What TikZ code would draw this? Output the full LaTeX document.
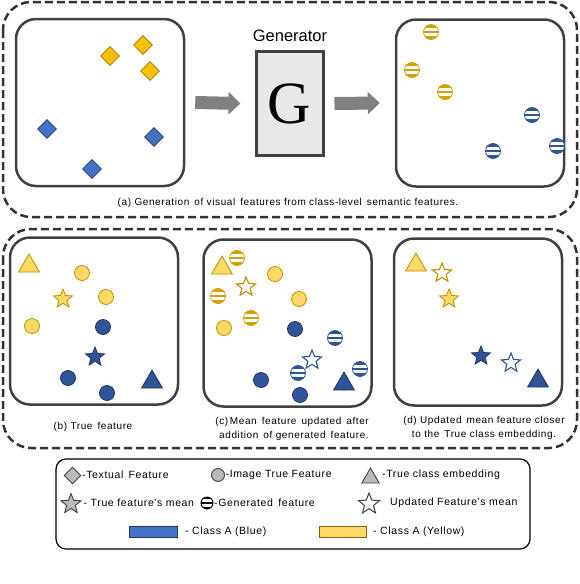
\documentclass[tikz,border=0pt]{standalone}
\usepackage{fontspec}
\setmainfont{Liberation Sans}
\newfontfamily\serifG{Liberation Serif}
\newfontfamily\capfont[LetterSpace=6]{Liberation Sans}
\newfontfamily\legfont[LetterSpace=6]{Liberation Sans}
\usetikzlibrary{shapes.geometric,arrows.meta}
\definecolor{ygold}{HTML}{FFC000}
\definecolor{ylight}{HTML}{FFD966}
\definecolor{yedge}{HTML}{BF9000}
\definecolor{ystripe}{HTML}{D4A10A}
\definecolor{bmid}{HTML}{4472C4}
\definecolor{bdark}{HTML}{2F5597}
\definecolor{bedge}{HTML}{1F3864}
\definecolor{framec}{HTML}{404040}
\definecolor{arrowc}{HTML}{808080}
\definecolor{genfill}{HTML}{E8E8E8}
\begin{document}
\begin{tikzpicture}[x=1pt,y=-1pt,
  panel/.style={draw=framec, line width=2.5pt, rounded corners=20pt, inner sep=0, minimum width=168pt, minimum height=167pt},
  group/.style={draw=black!80, line width=2.5pt, dash pattern=on 8pt off 4pt, rounded corners=28pt},
  dia/.style={diamond, minimum size=19pt, inner sep=0, line width=0.8pt},
  dot/.style={circle, minimum size=15pt, inner sep=0, line width=0.8pt},
  tri/.style={regular polygon, regular polygon sides=3, minimum size=24pt, inner sep=0, line width=0.8pt},
  mstar/.style={star, star points=5, star point ratio=2.3, minimum size=20pt, inner sep=0, line width=0.8pt},
  gen/.style={circle, minimum size=15pt, inner sep=0, draw=#1, line width=0.8pt, fill=white, path picture={
    \fill[#1] ([shift={(-9pt,4.3pt)}]path picture bounding box.center) rectangle ([shift={(9pt,9pt)}]path picture bounding box.center);
    \fill[#1] ([shift={(-9pt,-1.4pt)}]path picture bounding box.center) rectangle ([shift={(9pt,1.4pt)}]path picture bounding box.center);
    \fill[#1] ([shift={(-9pt,-9pt)}]path picture bounding box.center) rectangle ([shift={(9pt,-4.3pt)}]path picture bounding box.center);
  }},
  ydia/.style={dia, fill=ygold, draw=yedge!80!black},
  bdia/.style={dia, fill=bmid, draw=bedge},
  ydot/.style={dot, fill=ylight, draw=yedge},
  bdot/.style={dot, fill=bdark, draw=bedge},
  ytri/.style={tri, fill=ylight, draw=yedge},
  btri/.style={tri, fill=bdark, draw=bedge},
  ystar/.style={mstar, fill=ylight, draw=yedge},
  bstar/.style={mstar, fill=bdark, draw=bedge},
  yhstar/.style={mstar, fill=white, draw=yedge, line width=1.1pt},
  bhstar/.style={mstar, fill=white, draw=bdark, line width=1.1pt},
  ygen/.style={gen=ystripe},
  bgen/.style={gen=bdark},
  captxt/.style={font=\capfont\fontsize{10}{13.5}\selectfont, inner sep=0},
  legtxt/.style={font=\legfont\fontsize{10.5}{12}\selectfont, inner sep=0, anchor=west},
  fat/.style={line width=13pt, draw=arrowc, -{Triangle[length=12pt,width=22pt]}},
  gray sym/.style={fill=gray!55, draw=framec, line width=0.9pt}
]
\useasboundingbox (0,0) rectangle (580,584);

% groups
\draw[group] (3,2) rectangle (577,217);
\draw[group] (3,229) rectangle (577,448);

% panel (a) left
\node[panel] (p1) at (100,102.5) {};
\node[ydia] (d1) at (110,56) {};
\node[ydia] (d2) at (143,45) {};
\node[ydia] (d3) at (150,71) {};
\node[bdia] (d4) at (47,129) {};
\node[bdia] (d5) at (154,137) {};
\node[bdia] (d6) at (92,169) {};

% generator
\node[draw=framec, line width=3pt, fill=genfill, minimum width=67pt, minimum height=104pt, inner sep=0] (gen) at (289.5,103.5) {\serifG\fontsize{60}{60}\selectfont G};
\node[font=\fontsize{16.5}{16.5}\selectfont, inner sep=0] (gl) at (290,36) {Generator};

% panel (a) right
\node[panel] (p3) at (480,103) {};
\node[ygen] (g1) at (431,32) {};
\node[ygen] (g2) at (412,70) {};
\node[ygen] (g3) at (445,92) {};
\node[bgen] (g4) at (532,115) {};
\node[bgen] (g5) at (493,151) {};
\node[bgen] (g6) at (557,146) {};

\draw[fat] ([xshift=10pt]p1.east) -- ([xshift=-14pt]gen.west);
\draw[fat] ([xshift=10pt]gen.east) -- ([xshift=-15pt]p3.west);

\node[captxt] (capa) at (288,203) {(a) Generation\, of visual\, features from class-level\, semantic features.};

% panel (b)
\node[panel] (pb) at (94,321) {};
\node[ytri] (bt1) at (29,266) {};
\node[ydot] at (82,273) {};
\node[ydot] at (106,297) {};
\node[ydot] at (32,326) {};
\node[ystar] at (63,299) {};
\node[bdot] at (103,327) {};
\node[bdot] at (68,378) {};
\node[bdot] at (107,393) {};
\node[bstar] at (95,357) {};
\node[btri] (bt2) at (152,382) {};
\node[captxt] (capb) at (93,427) {(b) True\, feature};

% panel (c)
\node[panel] (pc) at (287.5,323) {};
\node[ytri] at (222,268) {};
\node[ygen] at (237,258) {};
\node[ygen] at (218,296) {};
\node[ygen] at (251,318) {};
\node[yhstar] at (246,287) {};
\node[ydot] at (275,274) {};
\node[ydot] at (299,299) {};
\node[ydot] at (224,328) {};
\node[bdot] at (295,329) {};
\node[bdot] at (261,380) {};
\node[bdot] at (300,395) {};
\node[bgen] at (335,338) {};
\node[bgen] at (298,373) {};
\node[bgen] at (360,369) {};
\node[bhstar] at (312,360) {};
\node[btri] at (344,384) {};
\node[captxt, align=right, anchor=east] (capc) at (369,429) {(c)\,Mean\, feature\, updated\, after\\addition\, of generated\, feature.};

% panel (d)
\node[panel] (pd) at (478,322) {};
\node[ytri] at (416,265) {};
\node[yhstar] at (442,273) {};
\node[ystar] at (449,299) {};
\node[bstar] at (481,356) {};
\node[bhstar] at (511,363) {};
\node[btri] at (538,381) {};
\node[captxt, align=center] (capd) at (484,428) {(d) Updated\, mean feature closer\\to the\, True class embedding.};

% legend
\draw[line width=1.2pt, rounded corners=10pt] (56,459) rectangle (530,549);
\node[dia, gray sym, minimum size=17pt] (l1) at (72.5,475.5) {};
\node[legtxt] at (82,475) {-Textual\, Feature};
\node[dot, gray sym, minimum size=13pt] (l2) at (218,475) {};
\node[legtxt] at (225.5,475) {-Image True Feature};
\node[tri, gray sym, minimum size=20pt] (l3) at (370.5,478) {};
\node[legtxt] at (382,475) {-True class embedding};
\node[mstar, gray sym, minimum size=21pt] (l4) at (71,504) {};
\node[legtxt] at (83.5,503) {- True feature's mean};
\node[gen=black, line width=0.9pt, minimum size=12pt] (l5) at (207,503) {};
\node[legtxt] at (214,503) {-Generated\, feature};
\node[mstar, fill=white, draw=framec, line width=1pt, minimum size=22pt] (l6) at (369,504) {};
\node[legtxt] at (390,503) {Updated Feature's mean};
\node[draw=bedge, fill=bmid, line width=0.7pt, minimum width=48pt, minimum height=11pt, inner sep=0] (l7) at (153,532) {};
\node[legtxt] at (185,532) {- Class A (Blue)};
\node[draw=yedge!70!black, fill=ylight, line width=0.9pt, minimum width=47pt, minimum height=11pt, inner sep=0] (l8) at (342.5,532) {};
\node[legtxt] at (373,532) {- Class A (Yellow)};
\end{tikzpicture}
\end{document}
